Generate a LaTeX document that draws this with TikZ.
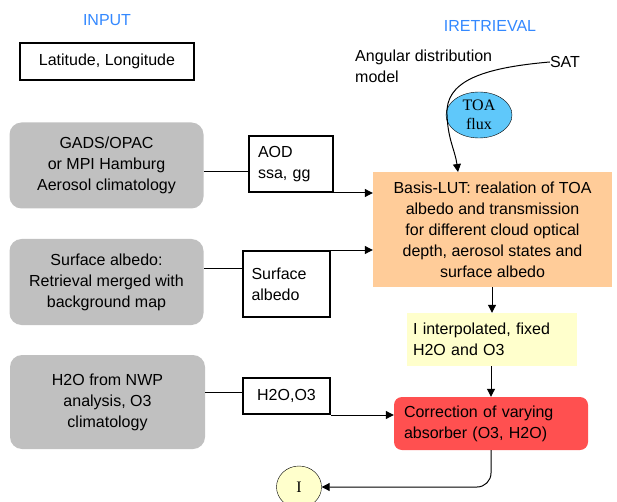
\documentclass[tikz,border=0pt]{standalone}
\usepackage{fontspec}
\setmainfont{Liberation Sans}
\newfontfamily\seriffont{Liberation Serif}
\usetikzlibrary{arrows.meta,shapes.geometric,calc}
\definecolor{titleblue}{RGB}{51,136,255}
\definecolor{boxgray}{RGB}{192,192,192}
\definecolor{lutpeach}{RGB}{255,204,153}
\definecolor{paleyellow}{RGB}{255,255,204}
\definecolor{corrred}{RGB}{255,80,80}
\definecolor{toablue}{RGB}{95,200,250}
\tikzset{
  base/.style={font=\fontsize{16}{21}\selectfont, inner sep=0pt},
  title/.style={base, text=titleblue},
  srcbox/.style={base, fill=boxgray, rounded corners=12pt, align=center},
  parbox/.style={base, draw, line width=2pt, align=left},
  lutbox/.style={base, fill=lutpeach, align=center},
  conn/.style={line width=1pt},
  arrow/.style={line width=1pt, -{Triangle[length=8pt,width=8pt]}},
}
\begin{document}
\begin{tikzpicture}[x=1pt,y=-1pt]
\useasboundingbox (0,0) rectangle (617,502);
% titles
\node[title] (input) at (107,20) {INPUT};
\node[title] (retr) at (490,26) {IRETRIEVAL};
% left column
\node[parbox, align=center, minimum width=174pt, minimum height=37pt] (latlon) at (107,61.5) {Latitude, Longitude};
\node[srcbox, minimum width=194pt, minimum height=86pt] (gads) at (106.5,165.5) {GADS/OPAC\\or MPI Hamburg\\Aerosol climatology};
\node[srcbox, minimum width=194pt, minimum height=86pt] (surf) at (106.5,282) {Surface albedo:\\Retrieval merged with\\background map};
\node[srcbox, minimum width=195pt, minimum height=94pt] (h2o) at (107.5,402) {H2O from NWP\\analysis, O3\\climatology};
% parameter boxes
\node[parbox, minimum width=84pt, minimum height=56pt, text width=66pt, inner xsep=8pt] (aod) at (291,164) {AOD\\ssa, gg};
\node[parbox, minimum width=87pt, minimum height=66pt, text width=70pt, inner xsep=8pt] (salb) at (286.5,284) {Surface\\albedo};
\node[parbox, align=center, minimum width=87pt, minimum height=36pt] (h2obox) at (286.5,396) {H2O,O3};
% retrieval column
\node[base, align=left] (adm) at (355,66) [anchor=west] {Angular distribution\\model};
\node[base] (sat) at (565,62) {SAT};
\node[base, ellipse, draw, fill=toablue, minimum width=66pt, minimum height=46pt, align=center, font=\seriffont\fontsize{16}{19}\selectfont] (toa) at (479,115) {TOA\\flux};
\node[lutbox, minimum width=239pt, minimum height=115pt] (lut) at (492.5,229.5) {Basis-LUT: realation of TOA\\albedo and transmission\\for different cloud optical\\depth, aerosol states and\\surface albedo};
\node[base, fill=paleyellow, align=left, minimum width=170pt, minimum height=53pt, text width=158pt, inner xsep=6pt] (interp) at (492,339.5) {I interpolated, fixed\\H2O and O3};
\node[base, fill=corrred, rounded corners=8pt, align=left, minimum width=194pt, minimum height=53pt, text width=174pt, inner xsep=10pt] (corr) at (491,423.5) {Correction of varying\\absorber (O3, H2O)};
\node[base, ellipse, draw, fill=paleyellow, minimum width=45pt, minimum height=42pt, font=\seriffont\fontsize{16}{19}\selectfont] (iout) at (299,487) {I};
% connectors
\coordinate (g1) at ($(gads.east)+(0,6.5)$);
\draw[conn] (g1) -- (g1 -| aod.west);
\draw[arrow] (aod.south east) -- (aod.south east -| lut.west);
\coordinate (s1) at ($(surf.east)+(0,-14)$);
\draw[conn] (s1) -- (s1 -| salb.west);
\draw[arrow] (salb.north east) -- (salb.north east -| lut.west);
\coordinate (h1) at ($(h2o.east)+(0,-10)$);
\draw[conn] (h1) -- (h1 -| h2obox.west);
\draw[arrow] (h2obox.south east) -- (h2obox.south east -| corr.west);
\draw[arrow] (lut.south -| interp.north) -- (interp.north);
\draw[arrow] (interp.south -| corr.north) -- (corr.north);
\draw[arrow, rounded corners=14pt] (corr.south) |- (iout.east);
\coordinate (lutin) at (458,172);
\draw[arrow] (sat.west) .. controls (480,68) and (445,82) .. (447,115) .. controls (448,140) and (455,150) .. (lutin);
\end{tikzpicture}
\end{document}
